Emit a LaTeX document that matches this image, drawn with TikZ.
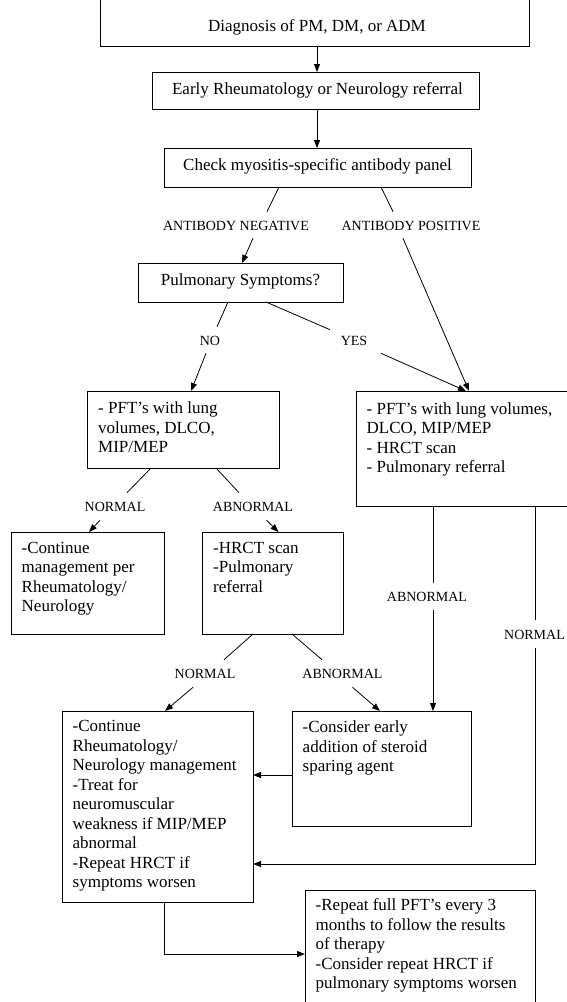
\documentclass[tikz,border=0pt]{standalone}
\usepackage{fontspec}
\setmainfont{Liberation Serif}
\usetikzlibrary{arrows.meta,calc,fit}
\begin{document}
\begin{tikzpicture}[x=1pt,y=-1pt,
  box/.style={draw, line width=0.8pt, inner sep=0pt, outer sep=0pt, rectangle},
  bigtext/.style={font=\fontsize{17}{19.5}\selectfont},
  txt/.style={bigtext, align=left, inner sep=0pt, anchor=north west},
  ctxt/.style={bigtext, inner sep=0pt},
  lbl/.style={font=\fontsize{14}{16}\selectfont, inner sep=0pt},
  ln/.style={line width=0.8pt},
  arr/.style={line width=0.8pt, -{Triangle[length=8pt,width=6pt]}}]
\useasboundingbox (0,0) rectangle (567,1002);
\clip (0,0) rectangle (567,1002);

% boxes
\node[box, fit={(100,-20) (529,46)}] (b1) {};
\node[box, fit={(152,72) (479,109)}] (b2) {};
\node[box, fit={(164,148) (471,187)}] (b3) {};
\node[box, fit={(138,263) (343,302)}] (b4) {};
\node[box, fit={(356,391) (620,506)}] (b5) {};
\node[box, fit={(87.5,391) (279.5,468)}] (b6) {};
\node[box, fit={(11,532) (164.5,634)}] (b7) {};
\node[box, fit={(202.5,532) (343.5,634)}] (b8) {};
\node[box, fit={(62,711) (253,902)}] (b9) {};
\node[box, fit={(292,711) (471,826)}] (b10) {};
\node[box, fit={(305,890) (535,1040)}] (b11) {};

% single-line texts
\node[ctxt] (t1) at (317,27) {Diagnosis of PM, DM, or ADM};
\node[ctxt] (t2) at ($(b2.center)+(2,0)$) {Early Rheumatology or Neurology referral};
\node[ctxt] (t3) at ($(b3.center)+(0,-1)$) {Check myositis-specific antibody panel};
\node[ctxt] (t4) at ($(b4.center)+(0,-1)$) {Pulmonary Symptoms?};

% multi-line texts
\node[txt] (t5) at ($(b5.north west)+(10.5,11)$) {- PFT’s with lung volumes,\\DLCO, MIP/MEP\\- HRCT scan\\- Pulmonary referral};
\node[txt] (t6) at ($(b6.north west)+(10.5,10.5)$) {- PFT’s with lung\\volumes, DLCO,\\MIP/MEP};
\node[txt] (t7) at ($(b7.north west)+(10.5,10)$) {-Continue\\management per\\Rheumatology/\\Neurology};
\node[txt] (t8) at ($(b8.north west)+(10.5,10)$) {-HRCT scan\\-Pulmonary\\referral};
\node[txt] (t9) at ($(b9.north west)+(10.5,9.5)$) {-Continue\\Rheumatology/\\Neurology management\\-Treat for\\neuromuscular\\weakness if MIP/MEP\\abnormal\\-Repeat HRCT if\\symptoms worsen};
\node[txt] (t10) at ($(b10.north west)+(10.5,9.5)$) {-Consider early\\addition of steroid\\sparing agent};
\node[txt] (t11) at ($(b11.north west)+(10.5,8.5)$) {-Repeat full PFT’s every 3\\months to follow the results\\of therapy\\-Consider repeat HRCT if\\pulmonary symptoms worsen};

% labels
\node[lbl] (lneg) at (236,226) {ANTIBODY NEGATIVE};
\node[lbl] (lpos) at (411,226) {ANTIBODY POSITIVE};
\node[lbl] (lno) at (210,341) {NO};
\node[lbl] (lyes) at (354,341) {YES};
\node[lbl] (ln1) at (115,507) {NORMAL};
\node[lbl] (la1) at (253,507) {ABNORMAL};
\node[lbl] (la2) at (427,597) {ABNORMAL};
\node[lbl] (ln2) at (534.5,635) {NORMAL};
\node[lbl] (ln3) at (205,674) {NORMAL};
\node[lbl] (la3) at (342.5,674) {ABNORMAL};

% connectors
\draw[arr] ($(b1.south west)+(217,0)$) -- ($(b2.north west)+(165,0)$);
\draw[arr] ($(b2.south west)+(165,0)$) -- ($(b3.north west)+(153,0)$);

\draw[ln] ($(b3.south west)+(115,0)$) -- ($(lneg.north)+(31,-9.4)$);
\draw[arr] ($(lneg.south)+(17,7.4)$) -- ($(b4.north west)+(104,0)$);
\draw[ln] ($(b3.south west)+(217,0)$) -- ($(lpos.north)+(-18,-9.4)$);
\draw[arr] ($(lpos.south)+(-8,7.4)$) -- ($(b5.north west)+(113,0)$);

\draw[ln] ($(b4.south west)+(90,0)$) -- ($(lno.north)+(7,-9.4)$);
\draw[arr] ($(lno.south)+(-4,7.4)$) -- ($(b6.north west)+(103.5,0)$);
\draw[ln] ($(b4.south west)+(128,0)$) -- ($(lyes.north)+(-24,-6.4)$);
\draw[arr] ($(lyes.south)+(27,7.4)$) -- ($(b5.north west)+(110,0)$);

\draw[ln] ($(b6.south west)+(63.5,0)$) -- ($(ln1.north)+(12,-9.4)$);
\draw[arr] ($(ln1.south)+(-15,8.4)$) -- ($(b7.north west)+(78,0)$);
\draw[ln] ($(b6.south west)+(128.5,0)$) -- ($(la1.north)+(-14,-9.4)$);
\draw[arr] ($(la1.south)+(13.5,8.4)$) -- ($(b8.north west)+(76,0)$);

\draw[ln] ($(b5.south west)+(77,0)$) -- ($(la2.north)+(6,-9.4)$);
\draw[arr] ($(la2.south)+(6,8.4)$) -- ($(b10.north west)+(141,0)$);
\draw[ln] ($(b5.south west)+(179,0)$) -- ($(ln2.north)+(0.5,-10.4)$);
\draw[arr] ($(ln2.south)+(0.5,8.4)$) |- ($(b9.north east)+(0,153)$);

\draw[ln] ($(b8.south west)+(50.5,0)$) -- ($(ln3.north)+(19,-9.4)$);
\draw[arr] ($(ln3.south)+(-12,8.4)$) -- ($(b9.north west)+(103,0)$);
\draw[ln] ($(b8.south west)+(89.5,0)$) -- ($(la3.north)+(-20.5,-9.4)$);
\draw[arr] ($(la3.south)+(10,8.4)$) -- ($(b10.north west)+(88,0)$);

\draw[arr] ($(b10.north west)+(0,64)$) -- ($(b9.north east)+(0,64)$);
\draw[arr] ($(b9.south west)+(102.5,0)$) |- ($(b11.north west)+(0,64)$);
\end{tikzpicture}
\end{document}
